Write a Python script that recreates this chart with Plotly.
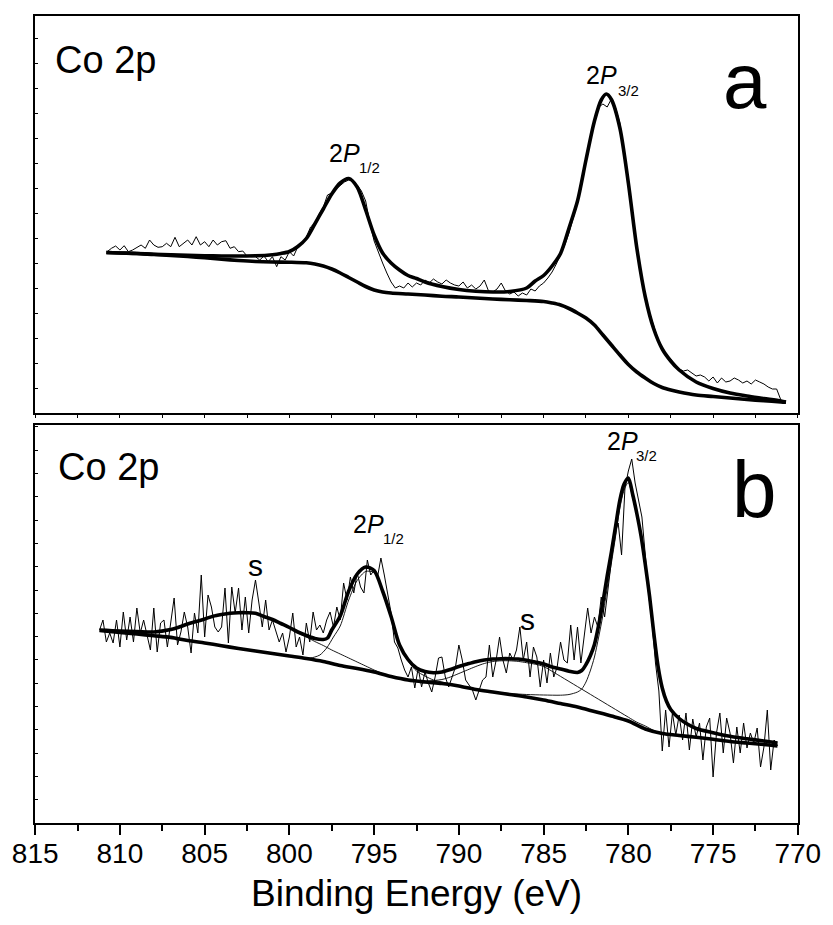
import plotly.graph_objects as go

# ---------------- Panel a : Co 2p (raw spectrum, step 0.25 eV) ----------------
raw_a_start, raw_a_step = 810.75, 0.25
raw_a_I = [
    161.3, 164.7, 167, 163, 167.3, 161.3, 163, 165.7, 168, 164.7,
    173, 168, 165.7, 166.3, 169.7, 166.3, 175.7, 166.3, 169.7, 173,
    168, 176.3, 168, 171.3, 166.3, 173, 168, 171.3, 172.3, 164.7,
    166.3, 161.3, 162, 157, 156.3, 156.3, 153, 157, 151.3, 156.3,
    146.3, 156.3, 153, 161.3, 157, 166.3, 170, 176, 186, 190,
    199, 206, 218, 220, 224, 228, 231, 233, 232, 228,
    222, 212, 190, 172, 160, 150, 140, 131, 125, 127,
    125, 130, 126, 130, 128, 133, 130, 134, 131, 129,
    133, 130, 128, 127, 131, 125, 128, 124, 127, 133,
    122, 121, 124, 130, 122, 119, 121, 117, 120, 118,
    124, 122, 127, 130, 135, 141, 149, 158, 168, 180,
    196, 210, 232, 252, 274, 292, 306, 309, 306, 314,
    305, 290, 260, 232, 198, 166, 140, 118, 100, 86,
    74, 65, 58, 54, 48, 44, 42, 43, 40, 37,
    38, 36, 32, 36, 30, 35, 31, 32, 35, 33,
    30, 32, 29, 33, 31, 29, 26, 24, 24, 13,
]
raw_a_E = [round(raw_a_start - raw_a_step * i, 2) for i in range(len(raw_a_I))]

env_a_E = [810.8, 810, 809, 808, 807, 806, 805, 804, 803, 802, 801, 800.5, 800,
           799.5, 799, 798.5, 798, 797.5, 797, 796.5, 796, 795.5, 795, 794.5, 794,
           793.5, 793, 792.5, 792, 791, 790, 789, 788, 787, 786, 785.5, 785, 784.5,
           784, 783.5, 783, 782.5, 782, 781.6, 781.3, 781, 780.5, 780, 779.5, 779,
           778.5, 778, 777.5, 777, 776, 775, 774, 773, 772, 771, 770.7]
env_a_I = [160.5, 160, 159.5, 158.8, 158.2, 157.7, 157.3, 157, 157, 157.2, 158.3, 159.5, 161.5,
           166.5, 174.5, 189, 204, 219, 230, 234.5, 226, 203, 178, 160, 150,
           143, 137.5, 134.5, 131, 126.5, 123.5, 121.8, 121, 121.5, 125, 132, 137.5, 147,
           159.5, 185, 212, 253, 292, 313, 319, 313.5, 285, 230, 165, 116,
           84, 64, 52, 43, 31, 24.5, 20, 17, 14.5, 12, 11]

bg_a_E = [810.8, 810, 809, 808, 807, 806, 805, 804, 803, 802, 801, 800, 799, 798.5,
          798, 797.5, 797, 796.5, 796, 795.5, 795, 794.5, 794, 793, 792, 791, 790,
          789, 788, 787, 786, 785, 784.5, 784, 783.5, 783, 782.5, 782, 781.5, 781,
          780.5, 780, 779.5, 779, 778.5, 778, 777.5, 777, 776, 775, 774, 773, 772,
          771, 770.7]
bg_a_I = [160.5, 160, 159.5, 158.5, 157.6, 156.5, 155.3, 153.8, 152.5, 151.5, 151, 150.8, 150.2, 149,
          147, 144, 140, 135.5, 131, 126.5, 123, 121, 120, 119, 118, 116.8, 116,
          115, 114, 113.2, 112.5, 111.5, 110, 108, 104.5, 100, 95, 88, 78, 68,
          58, 48.5, 41, 35, 29.5, 25.5, 23, 21, 18, 16.5, 15, 13.5, 12.3,
          11, 10.7]

# ---------------- Panel b : Co 2p (raw spectrum, step 0.2 eV) ----------------
raw_b_start, raw_b_step = 811.2, 0.2
raw_b_I = [
    193, 203, 181, 190, 180, 203, 176, 211, 183, 206,
    181, 215, 190, 203, 188, 173, 215, 171, 200, 203,
    176, 203, 225, 178, 191, 211, 196, 170, 210, 190,
    248, 186, 228, 216, 196, 191, 196, 235, 180, 236,
    210, 235, 193, 226, 190, 223, 243,
    220, 196, 223, 193, 203, 193, 181, 190, 171, 186,
    210, 176, 186, 168, 200, 181, 211, 193, 198, 190,
    203, 211, 196, 216, 203, 240, 223, 246, 230, 250,
    236, 230, 263, 248, 253, 246, 265, 248, 230, 210,
    181, 175, 163, 153, 146, 156, 135, 155, 136, 151,
    140, 131, 146, 165, 166, 146,
    136, 146, 156, 178, 163, 143, 138, 133, 123, 133,
    143, 146, 178, 146, 163, 186, 163, 150, 170, 163,
    173, 196, 163, 181, 146, 176, 166, 136, 163, 140,
    170, 146, 156, 181, 163, 160, 198, 163, 196, 160,
    186, 215, 190, 206, 196, 226, 206, 236, 266, 290,
    300, 268, 335, 352,
    364, 340, 323, 306, 268, 228, 200, 160, 132, 72,
    113, 76, 110, 88, 108, 83, 110, 73, 104, 86,
    100, 63, 96, 105, 46, 90, 110, 70, 105, 90,
    60, 96, 70, 100, 75, 90, 80, 95, 56, 76,
    113, 53, 83, 77,
]
raw_b_E = [round(raw_b_start - raw_b_step * i, 2) for i in range(len(raw_b_I))]

env_b_E = [811.2, 810, 809, 808, 807, 806.5, 806, 805.5, 805, 804.5, 804, 803.5, 803,
           802.5, 802, 801.5, 801, 800.5, 800, 799.5, 799, 798.5, 798, 797.75, 797.5,
           797, 796.5, 796, 795.5, 795, 794.5, 794, 793.5, 793, 792.5, 792, 791.5,
           791, 790.5, 790, 789.5, 789, 788.5, 788, 787.5, 787, 786.5, 786, 785.5, 785,
           784.5, 784, 783.5, 783, 782.75, 782.5, 782.25, 782, 781.75, 781.5, 781.25,
           781, 780.75, 780.5, 780.25, 780, 779.75, 779.5, 779.25, 779, 778.75, 778.5,
           778.25, 778, 777.75, 777.5, 777, 776.5, 776, 775, 774, 773, 772, 771.2]
env_b_I = [193, 192, 191.5, 191, 193.5, 196, 199, 201.5, 204, 206.8, 208.5, 209.8, 210.3,
           210.3, 209.7, 206.5, 203.5, 199.5, 195.5, 191, 187.5, 184.5, 183.5, 185, 193,
           207, 232, 249, 256, 252.5, 232, 206.5, 178, 163.5, 155, 151.5, 150.3,
           151, 153.5, 156.5, 159, 161.3, 163, 164, 164.3, 164.3, 164, 162.8, 161, 159,
           156, 154, 151.8, 150.5, 152.5, 158.5, 167, 178.5, 198, 221, 247,
           271, 297, 323, 339, 345, 329, 309.5, 287, 258.5, 227, 190,
           157, 135, 121.7, 113.5, 104.5, 98.7, 94.5, 90.3, 86.7, 84.2, 82, 80]

bg_b_E = [811.2, 810, 809, 808, 807, 806, 805, 804, 803, 802, 801, 800, 799, 798,
          797, 796, 795, 794, 793, 792, 791, 790, 789, 788, 787, 786, 785, 784, 783,
          782, 781, 780, 779, 778, 777, 776, 775, 774, 773, 772, 771.2]
bg_b_I = [192.5, 190.5, 189, 187.3, 185.6, 182.5, 180, 177.3, 174.5, 172, 169.5, 167, 164.5, 161.5,
          157.5, 154.5, 151, 146.5, 143, 141, 139.5, 137, 133.5, 131, 128.5, 126, 123, 119.5, 116,
          111.5, 107, 102, 94, 89.5, 87.5, 85.7, 83.8, 81.5, 80, 78.5, 77]

# fitted components (each including the background)
s1_b_E = [799.5, 799, 798.5, 798, 797.5, 797, 796.5, 796, 795.5, 795, 794.5, 794, 793.5]
s1_b_I = [190, 186, 181.5, 177.5, 173, 169, 165, 161, 157, 153, 149.5, 146.8, 145]

p12_b_E = [799.5, 799, 798.75, 798.5, 798.2, 797.8, 797.4, 797, 796.5, 796, 795.5, 795,
           794.5, 794, 793.5, 793, 792.5, 792, 791.5, 791, 790.5, 790]
p12_b_I = [165.5, 164.8, 165, 166, 168, 175, 186, 197, 223, 242.5, 251.5, 250.5,
           231, 206, 177, 162, 152, 147, 143, 141, 139, 137]

s2_b_E = [794, 793, 792, 791, 790.5, 790, 789.5, 789, 788.5, 788, 787.5, 787, 786.5, 786,
          785.5, 785, 784.8, 784, 783, 782, 781, 780, 779.5, 779, 778.5, 778]
s2_b_I = [146.5, 143.5, 142, 143.5, 146, 149.5, 153, 156.5, 159.5, 161.5, 162.2, 162.2, 161.6, 160.3,
          158.8, 156.5, 154.7, 146.6, 136.4, 126.2, 116, 105.8, 100.8, 97, 92.5, 89.5]

p32_b_E = [788, 787, 786, 785, 784, 783.5, 783, 782.75, 782.5, 782.25, 782, 781.75, 781.5,
           781.25, 781, 780.75, 780.5, 780.25, 780, 779.75, 779.5, 779.25, 779, 778.75,
           778.5, 778.25, 778, 777.75, 777.5, 777, 776.5, 776, 775, 774, 773, 772, 771.2]
p32_b_I = [131, 129.5, 128.5, 128, 127.8, 128.5, 131, 134, 141, 152, 166, 186, 208,
           235, 260, 287, 315, 333, 340.5, 325.5, 307, 285, 256, 226,
           190, 157, 135, 121.7, 113.5, 104.5, 98.7, 94.5, 90.3, 86.7, 84.2, 82, 80]

x_ticks = [815, 810, 805, 800, 795, 790, 785, 780, 775, 770]

# ---------------- figure ----------------
W, H = 833, 925
ML, MR, MT, MB = 35, 26.5, 16, 102
PW, PH = W - ML - MR, H - MT - MB


def xp(p):
    return (p - ML) / PW


def yp(p):
    return (H - MB - p) / PH


BLACK = "#000000"
THICK = 3.6
fig = go.Figure()


def add_line(x, y, xa, ya, width, spline=False):
    fig.add_trace(go.Scatter(
        x=x, y=y, xaxis=xa, yaxis=ya, mode="lines",
        line=dict(color=BLACK, width=width, shape="spline" if spline else "linear",
                  smoothing=0.8 if spline else None),
        hoverinfo="skip", showlegend=False))


# panel a
add_line(raw_a_E, raw_a_I, "x", "y", 1.0)
add_line(bg_a_E, bg_a_I, "x", "y", THICK, True)
add_line(env_a_E, env_a_I, "x", "y", THICK, True)

# panel b
add_line(raw_b_E, raw_b_I, "x2", "y2", 1.0)
for cx, cy in [(s1_b_E, s1_b_I), (p12_b_E, p12_b_I), (s2_b_E, s2_b_I), (p32_b_E, p32_b_I)]:
    add_line(cx, cy, "x2", "y2", 0.9, True)
add_line(bg_b_E, bg_b_I, "x2", "y2", THICK, True)
add_line(env_b_E, env_b_I, "x2", "y2", THICK, True)

split_a = yp(413)
split_b = yp(425)

axis_common = dict(showline=True, linecolor=BLACK, linewidth=1.5, mirror=True,
                   showgrid=False, zeroline=False, tickcolor=BLACK)

SANS = "Liberation Sans, Arial, sans-serif"

fig.update_layout(
    width=W, height=H,
    margin=dict(l=ML, r=MR, t=MT, b=MB, pad=0),
    paper_bgcolor="white", plot_bgcolor="white",
    showlegend=False,
    font=dict(family=SANS, color=BLACK),
    xaxis=dict(domain=[0, 1], anchor="y", range=[815.01, 769.99], ticks="outside",
               ticklen=3, tickwidth=1, dtick=2.5, tick0=815, showticklabels=False,
               **axis_common),
    yaxis=dict(domain=[split_a, 1], anchor="x", range=[0, 397], ticks="inside",
               ticklen=3, tickwidth=1, dtick=25, tick0=0, showticklabels=False,
               **axis_common),
    xaxis2=dict(domain=[0, 1], anchor="y2", range=[815.01, 769.99], ticks="outside",
                ticklen=10, tickwidth=1.5, tickmode="array", tickvals=x_ticks,
                ticktext=[str(t) for t in x_ticks], ticklabelstandoff=-5,
                tickfont=dict(family=SANS, size=28, color=BLACK),
                minor=dict(dtick=2.5, tick0=815, ticks="outside", ticklen=6,
                           tickwidth=1.5, tickcolor=BLACK),
                **axis_common),
    yaxis2=dict(domain=[0, split_b], anchor="x2", range=[0, 398], ticks="inside",
                ticklen=3, tickwidth=1, dtick=23.3, tick0=0, showticklabels=False,
                **axis_common),
)


def label(text, cx, cy, size):
    fig.add_annotation(text=text, x=xp(cx), y=yp(cy), xref="paper", yref="paper",
                       xanchor="center", yanchor="middle", showarrow=False,
                       font=dict(size=size, family=SANS, color=BLACK))


label("Co 2p", 106.5, 60, 38)
label("a", 753, 81, 78)
label("Co 2p", 109, 467, 38)
label("b", 763, 489, 80)

label("2<i>P</i>", 608, 75, 25)
label("3/2", 635, 90, 15)
label("2<i>P</i>", 347.5, 153, 25)
label("1/2", 373.5, 167.5, 15)
label("2<i>P</i>", 629.5, 441, 25)
label("3/2", 653, 455, 15)
label("2<i>P</i>", 372.5, 524, 25)
label("1/2", 397.5, 538.5, 15)
label("s", 258, 565, 30)
label("s", 532.5, 619, 30)

label("Binding Energy (eV)", 420.75, 893, 37)

fig.write_html(
    "out.html",
    config={"displayModeBar": False},
    post_script="document.body.style.margin='0';document.body.style.overflow='hidden';",
)
